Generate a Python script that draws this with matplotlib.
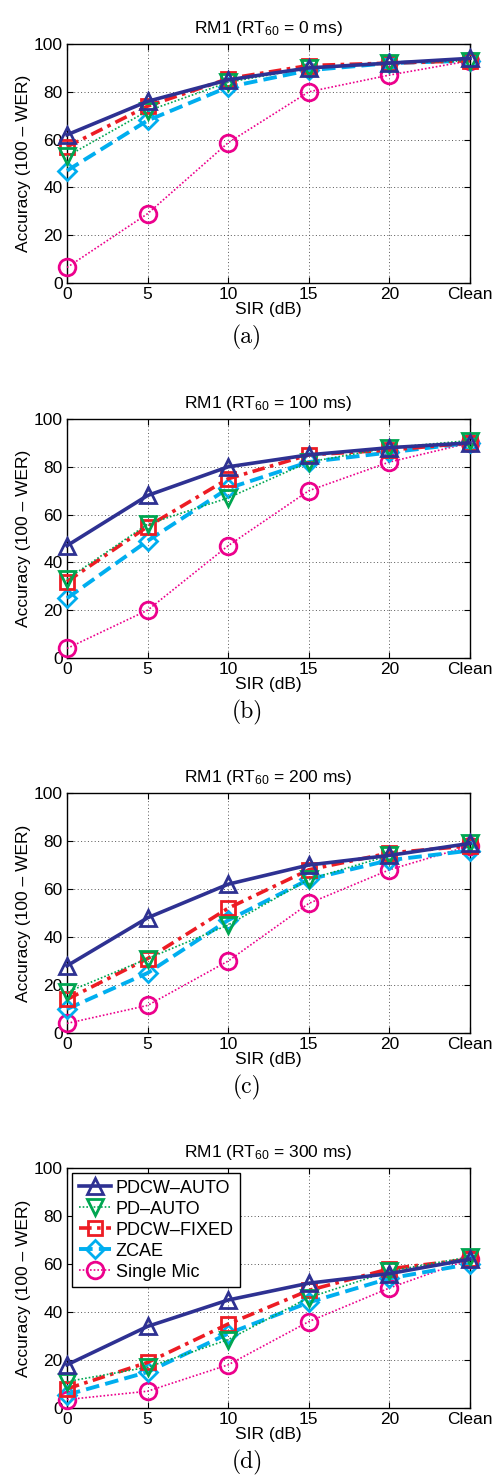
import matplotlib
matplotlib.use("Agg")
import matplotlib.pyplot as plt
import numpy as np

plt.rcParams['font.family'] = ['Liberation Sans', 'DejaVu Sans']
plt.rcParams['mathtext.fontset'] = 'custom'
plt.rcParams['mathtext.rm'] = 'Liberation Sans'
plt.rcParams['mathtext.it'] = 'Liberation Sans'

sir_labels = ['0', '5', '10', '15', '20', 'Clean']
rt60_values = [0, 100, 200, 300]
panel_tags = ['(a)', '(b)', '(c)', '(d)']
series_names = ['PDCW\u2013AUTO', 'PD\u2013AUTO', 'PDCW\u2013FIXED', 'ZCAE', 'Single Mic']

# Accuracy (100 - WER) per reverberation time, one list per method
pdcw_auto = [
    [62, 76, 85, 90, 92, 94],
    [47, 68, 80, 85, 88, 90],
    [28, 48, 62, 70, 74, 79],
    [18, 34, 45, 52, 56, 62],
]
pd_auto = [
    [53, 72, 84, 90, 92, 93],
    [33, 56, 67, 82, 88, 91],
    [17, 31, 45, 64, 74, 79],
    [11, 17, 28.5, 46, 57, 63],
]
pdcw_fixed = [
    [57, 74, 85.5, 91, 92, 93],
    [32, 55, 75, 85, 87, 90],
    [14, 31, 52, 68, 75, 78],
    [8, 19, 35, 49, 58, 62],
]
zcae = [
    [47, 68, 82, 89, 92, 93],
    [25, 49, 71, 82, 86, 90],
    [10, 25, 47, 64, 72, 76],
    [5.5, 15, 31, 44, 54, 60],
]
single_mic = [
    [6.5, 29, 58.7, 80, 87, 93],
    [4, 20, 47, 70, 82, 90],
    [4, 11.5, 30, 54, 68, 78],
    [3.5, 7, 18, 36, 50, 62],
]

series_data = [pdcw_auto, pd_auto, pdcw_fixed, zcae, single_mic]
styles = [
    dict(color='#2e3192', ls='-', lw=2.6, marker='^'),
    dict(color='#00a651', ls=(0, (1, 1.2)), lw=1.2, marker='v'),
    dict(color='#ed1c24', ls=(0, (3.5, 1.5, 1, 1.5)), lw=2.6, marker='s'),
    dict(color='#00aeef', ls=(0, (3.5, 1.6)), lw=2.8, marker='D'),
    dict(color='#ec008c', ls=(0, (1, 1.2)), lw=1.2, marker='o'),
]
marker_sizes = [12, 12, 10.5, 9.5, 12]

W, H = 496, 1475
fig = plt.figure(figsize=(W / 100, H / 100), dpi=100)

axes_px = [(44, 283), (419, 658), (793, 1033), (1168, 1408)]
left_px, right_px = 67, 470
x = np.arange(len(sir_labels))

for p, (top, bot) in enumerate(axes_px):
    ax = fig.add_axes([left_px / W, 1 - bot / H, (right_px - left_px) / W, (bot - top) / H])
    for s, (name, data, st, ms) in enumerate(zip(series_names, series_data, styles, marker_sizes)):
        ax.plot(x, data[p], color=st['color'], linestyle=st['ls'], linewidth=st['lw'],
                marker=st['marker'], markersize=ms, markerfacecolor='none',
                markeredgecolor=st['color'], markeredgewidth=2.0, label=name,
                clip_on=False, zorder=3 + (4 - s) * 0.1)
    ax.set_xlim(0, 5)
    ax.set_ylim(0, 100)
    ax.set_xticks(x)
    ax.set_xticklabels(sir_labels)
    ax.set_yticks([0, 20, 40, 60, 80, 100])
    ax.tick_params(direction='in', labelsize=12.5, length=4, width=0.8, pad=3,
                   top=True, right=True)
    ax.grid(True, linestyle=(0, (1, 2.5)), color='#555555', linewidth=0.7)
    for sp in ax.spines.values():
        sp.set_linewidth(1.0)
    ax.set_title(r'RM1 (RT$_{60}$ = %d ms)' % rt60_values[p], fontsize=12.5, pad=8)
    ax.set_ylabel('Accuracy (100 \u2013 WER)', fontsize=12.5, labelpad=2)
    ax.set_xlabel('SIR (dB)', fontsize=12.5, labelpad=0)
    ax.text(247 / W, 1 - (bot + 54) / H, panel_tags[p],
            transform=fig.transFigure, ha='center', va='center',
            fontsize=17, family='cmr10')
    if p == 3:
        leg = ax.legend(loc='upper left', fontsize=13, handlelength=1.8,
                        borderpad=0.35, labelspacing=0.22, handletextpad=0.25,
                        fancybox=False, framealpha=1, borderaxespad=0.3)
        leg.get_frame().set_edgecolor('black')
        leg.get_frame().set_linewidth(1.0)

fig.savefig('out.png', dpi=100)
